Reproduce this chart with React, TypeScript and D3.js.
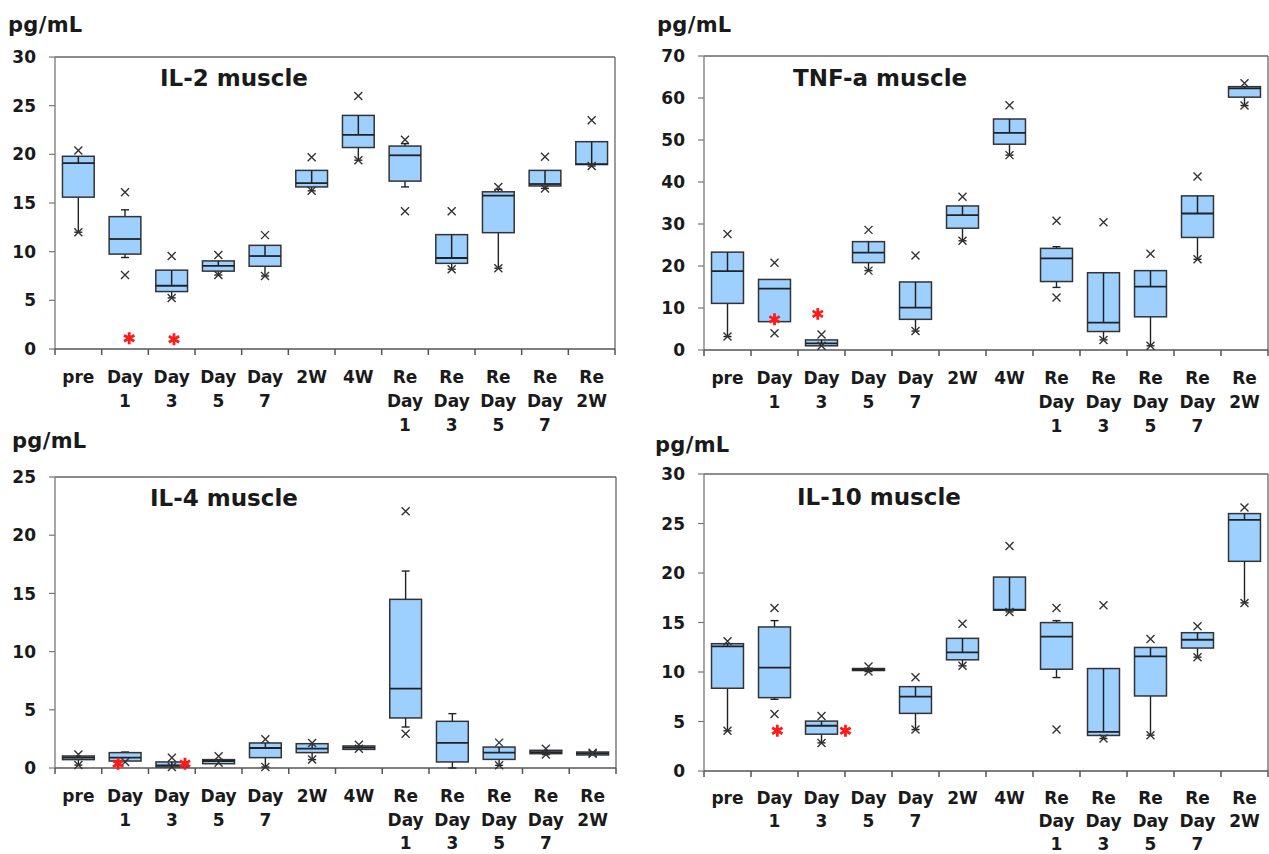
import React from 'react';
import * as d3 from 'd3';

const categories = [
  ['pre'], ['Day', '1'], ['Day', '3'], ['Day', '5'], ['Day', '7'], ['2W'], ['4W'],
  ['Re', 'Day', '1'], ['Re', 'Day', '3'], ['Re', 'Day', '5'], ['Re', 'Day', '7'], ['Re', '2W'],
];

// IL-2
const il2Q3 = [19.8, 13.6, 8.1, 9.05, 10.65, 18.35, 24.0, 20.85, 11.75, 16.15, 18.35, 21.3];
const il2Med = [19.1, 11.3, 6.5, 8.55, 9.55, 17.05, 22.0, 19.9, 9.35, 15.75, 16.95, 19.0];
const il2Q1 = [15.6, 9.75, 5.9, 8.0, 8.5, 16.65, 20.7, 17.25, 8.8, 11.95, 16.75, 18.95];
const il2Hi = [19.8, 14.3, 8.1, 9.05, 10.65, 18.35, 24.0, 21.1, 11.75, 16.4, 18.35, 21.3];
const il2Lo = [12.0, 9.4, 5.25, 7.6, 7.5, 16.25, 19.4, 16.65, 8.2, 8.3, 16.5, 18.8];
const il2XTop = [20.4, 16.1, 9.55, 9.65, 11.7, 19.7, 26.0, 21.5, 14.15, 16.65, 19.75, 23.5];
const il2XBot = [12.0, 7.6, 5.25, 7.6, 7.5, 16.25, 19.4, 14.15, 8.2, 8.3, 16.5, 18.8];
const il2Stars = [{ i: 1, off: 0.09, v: 1.1 }, { i: 2, off: 0.05, v: 1.0 }];
const il2Ticks = [0, 5, 10, 15, 20, 25, 30];

// TNF-a
const tnfQ3 = [23.3, 16.8, 2.4, 25.8, 16.2, 34.3, 55.0, 24.2, 18.4, 18.9, 36.7, 62.7];
const tnfMed = [18.8, 14.6, 1.6, 23.2, 10.1, 32.1, 51.7, 21.8, 6.5, 15.1, 32.5, 62.3];
const tnfQ1 = [11.1, 6.75, 1.0, 20.8, 7.3, 29.0, 49.0, 16.3, 4.4, 7.9, 26.8, 60.2];
const tnfHi = [23.3, 14.6, 2.4, 25.8, 16.2, 34.3, 55.0, 24.6, 18.4, 18.9, 36.7, 62.7];
const tnfLo = [3.2, 6.75, 1.0, 18.9, 4.5, 26.0, 46.4, 14.9, 2.4, 1.0, 21.6, 58.2];
const tnfXTop = [27.6, 20.8, 3.7, 28.6, 22.5, 36.5, 58.3, 30.8, 30.4, 22.9, 41.3, 63.5];
const tnfXBot = [3.2, 4.0, 1.0, 18.9, 4.5, 26.0, 46.4, 12.5, 2.4, 1.0, 21.6, 58.2];
const tnfStars = [{ i: 1, off: 0, v: 7.3 }, { i: 2, off: -0.08, v: 8.6 }];
const tnfTicks = [0, 10, 20, 30, 40, 50, 60, 70];

// IL-4
const il4Q3 = [1.03, 1.32, 0.52, 0.72, 2.15, 2.09, 1.89, 14.49, 4.01, 1.8, 1.52, 1.37];
const il4Med = [0.89, 0.89, 0.23, 0.6, 1.72, 1.66, 1.75, 6.82, 2.15, 1.32, 1.37, 1.26];
const il4Q1 = [0.72, 0.6, 0.09, 0.37, 0.89, 1.32, 1.6, 4.3, 0.52, 0.74, 1.23, 1.12];
const il4Hi = [1.03, 1.37, 0.52, 0.72, 2.15, 2.09, 1.89, 16.92, 4.67, 1.8, 1.52, 1.37];
const il4Lo = [0.25, 0.6, 0.09, 0.46, 0.09, 0.72, 1.65, 3.52, 0.0, 0.23, 1.15, 1.23];
const il4XTop = [1.17, null, 0.89, 1.0, 2.46, 2.15, 2.0, 22.05, null, 2.18, 1.66, 1.3];
const il4XBot = [0.25, 0.52, 0.09, 0.46, 0.09, 0.72, 1.65, 2.95, null, 0.23, 1.15, 1.23];
const il4Stars = [{ i: 1, off: -0.15, v: 0.37 }, { i: 2, off: 0.28, v: 0.37 }];
const il4Ticks = [0, 5, 10, 15, 20, 25];

// IL-10
const il10Q3 = [12.86, 14.55, 5.04, 10.35, 8.52, 13.4, 19.59, 14.99, 10.35, 12.48, 13.97, 26.0];
const il10Med = [12.58, 10.45, 4.57, 10.25, 7.51, 11.98, 16.31, 13.57, 3.96, 11.57, 13.26, 25.37];
const il10Q1 = [8.36, 7.41, 3.72, 10.15, 5.82, 11.23, 16.24, 10.28, 3.59, 7.58, 12.42, 21.18];
const il10Hi = [12.86, 15.19, 5.04, 10.35, 8.52, 13.4, 19.59, 15.19, 10.35, 12.48, 13.97, 26.0];
const il10Lo = [4.06, 7.24, 2.84, 10.05, 4.19, 10.62, 16.07, 9.44, 3.28, 3.62, 11.5, 16.98];
const il10XTop = [13.1, 16.47, 5.55, 10.55, 9.47, 14.88, 22.73, 16.47, 16.75, 13.33, 14.61, 26.62];
const il10XBot = [4.06, 5.75, 2.84, 10.05, 4.19, 10.62, 16.07, 4.19, 3.28, 3.62, 11.5, 16.98];
const il10Stars = [{ i: 1, off: 0.06, v: 4.06 }, { i: 2, off: 0.51, v: 4.06 }];
const il10Ticks = [0, 5, 10, 15, 20, 25, 30];

const FONT = '"DejaVu Sans", sans-serif';

type PanelProps = {
  left: number; right: number; top: number; bottom: number;
  max: number; ticks: number[]; title: string; titleX: number; titleDy: number;
  unitX: number; unitY: number; labelDy: number; lineGap: number;
  q1: number[]; med: number[]; q3: number[]; lo: number[]; hi: number[];
  xTop: (number | null)[]; xBot: (number | null)[];
  stars: { i: number; off: number; v: number }[];
};

const Panel = (p: PanelProps) => {
  const x = d3.scaleBand<number>()
    .domain(categories.map((_, i) => i))
    .range([p.left, p.right])
    .padding(0);
  const y = d3.scaleLinear().domain([0, p.max]).range([p.bottom, p.top]);
  const bw = x.bandwidth();
  const boxW = bw * 0.68;
  const capW = 8;
  const star = d3.symbol(d3.symbolAsterisk, 100)() as string;

  const cross = (cx: number, cy: number) =>
    `M${cx - 4},${cy - 4}L${cx + 4},${cy + 4}M${cx - 4},${cy + 4}L${cx + 4},${cy - 4}`;

  return (
    <g>
      <text x={p.unitX} y={p.unitY} fontFamily={FONT} fontWeight="bold" fontSize={21}
        fill="#1a1a1a" letterSpacing={0.3}>pg/mL</text>

      {/* frame */}
      <line x1={p.left} x2={p.right} y1={p.top} y2={p.top} stroke="#666" strokeWidth={1.3} />
      <line x1={p.right} x2={p.right} y1={p.top} y2={p.bottom} stroke="#666" strokeWidth={1.3} />
      <line x1={p.left} x2={p.left} y1={p.top} y2={p.bottom} stroke="#777" strokeWidth={1.3} />
      <line x1={p.left} x2={p.right} y1={p.bottom} y2={p.bottom} stroke="#555" strokeWidth={1.5} />

      {/* y ticks */}
      {p.ticks.map(t => (
        <g key={t}>
          <line x1={p.left - 6} x2={p.left} y1={y(t)} y2={y(t)} stroke="#777" strokeWidth={1.2} />
          <text x={p.left - 19} y={y(t)} dy="0.36em" textAnchor="end" fontFamily={FONT}
            fontWeight="bold" fontSize={17} fill="#1a1a1a">{t}</text>
        </g>
      ))}

      {/* x ticks */}
      {categories.map((_, i) => (
        <line key={'t' + i} x1={x(i)!} x2={x(i)!} y1={p.bottom} y2={p.bottom + 6}
          stroke="#555" strokeWidth={1.5} />
      ))}
      <line x1={p.right} x2={p.right} y1={p.bottom} y2={p.bottom + 6} stroke="#555" strokeWidth={1.5} />

      {/* category labels */}
      {categories.map((lines, i) => (
        <text key={'c' + i} x={x(i)! + bw / 2} y={p.bottom + p.labelDy} textAnchor="middle"
          fontFamily={FONT} fontWeight="bold" fontSize={17} fill="#1a1a1a">
          {lines.map((l, j) => (
            <tspan key={j} x={x(i)! + bw / 2} dy={j === 0 ? 0 : p.lineGap}>{l}</tspan>
          ))}
        </text>
      ))}

      <text x={p.titleX} y={p.top + p.titleDy} fontFamily={FONT} fontWeight="bold"
        fontSize={23} fill="#1a1a1a">{p.title}</text>

      {/* boxes */}
      {categories.map((_, i) => {
        const cx = x(i)! + bw / 2;
        const x0 = cx - boxW / 2;
        const items: React.ReactNode[] = [];
        if (p.lo[i] < p.q1[i] - 1e-6) {
          items.push(<line key="lw" x1={cx} x2={cx} y1={y(p.q1[i])} y2={y(p.lo[i])} stroke="#222" strokeWidth={1.4} />);
          items.push(<line key="lc" x1={cx - capW / 2} x2={cx + capW / 2} y1={y(p.lo[i])} y2={y(p.lo[i])} stroke="#222" strokeWidth={1.4} />);
        }
        if (p.hi[i] > p.q3[i] + 1e-6) {
          items.push(<line key="hw" x1={cx} x2={cx} y1={y(p.q3[i])} y2={y(p.hi[i])} stroke="#222" strokeWidth={1.4} />);
          items.push(<line key="hc" x1={cx - capW / 2} x2={cx + capW / 2} y1={y(p.hi[i])} y2={y(p.hi[i])} stroke="#222" strokeWidth={1.4} />);
        }
        items.push(<rect key="b" x={x0} width={boxW} y={y(p.q3[i])}
          height={Math.max(1, y(p.q1[i]) - y(p.q3[i]))} fill="#9dcfff" stroke="#333" strokeWidth={1.5} />);
        items.push(<line key="m" x1={x0} x2={x0 + boxW} y1={y(p.med[i])} y2={y(p.med[i])} stroke="#222" strokeWidth={1.8} />);
        if (p.hi[i] <= p.q3[i] + 1e-6 && p.hi[i] > p.med[i] + 1e-6) {
          items.push(<line key="in" x1={cx} x2={cx} y1={y(p.med[i])} y2={y(p.hi[i])} stroke="#222" strokeWidth={1.5} />);
        }
        const xt = p.xTop[i];
        const xb = p.xBot[i];
        if (xt !== null) items.push(<path key="xt" d={cross(cx, y(xt))} stroke="#333" strokeWidth={1.4} fill="none" />);
        if (xb !== null) items.push(<path key="xb" d={cross(cx, y(xb))} stroke="#333" strokeWidth={1.4} fill="none" />);
        return <g key={'b' + i}>{items}</g>;
      })}

      {/* significance marks */}
      {p.stars.map((s, k) => (
        <path key={'s' + k} d={star}
          transform={`translate(${x(s.i)! + bw / 2 + s.off * bw},${y(s.v)})`}
          fill="none" stroke="#ff1a1a" strokeWidth={2.8} />
      ))}
    </g>
  );
};

export default function App() {
  return (
    <svg width={1269} height={854} style={{ position: 'absolute', left: 0, top: 0, background: '#fff' }}>
      <rect width={1269} height={854} fill="#fff" />
      <Panel left={55} right={615} top={57} bottom={349} max={30} ticks={il2Ticks}
        title="IL-2 muscle" titleX={160} titleDy={29} unitX={8} unitY={32}
        labelDy={34} lineGap={24}
        q1={il2Q1} med={il2Med} q3={il2Q3} lo={il2Lo} hi={il2Hi}
        xTop={il2XTop} xBot={il2XBot} stars={il2Stars} />
      <Panel left={704} right={1268} top={56} bottom={350} max={70} ticks={tnfTicks}
        title="TNF-a muscle" titleX={793} titleDy={30} unitX={657} unitY={32}
        labelDy={34} lineGap={24}
        q1={tnfQ1} med={tnfMed} q3={tnfQ3} lo={tnfLo} hi={tnfHi}
        xTop={tnfXTop} xBot={tnfXBot} stars={tnfStars} />
      <Panel left={55} right={616} top={477} bottom={768} max={25} ticks={il4Ticks}
        title="IL-4 muscle" titleX={150} titleDy={29} unitX={12} unitY={448}
        labelDy={34} lineGap={23.5}
        q1={il4Q1} med={il4Med} q3={il4Q3} lo={il4Lo} hi={il4Hi}
        xTop={il4XTop} xBot={il4XBot} stars={il4Stars} />
      <Panel left={704} right={1268} top={474} bottom={771} max={30} ticks={il10Ticks}
        title="IL-10 muscle" titleX={797} titleDy={31} unitX={655} unitY={452}
        labelDy={33} lineGap={23}
        q1={il10Q1} med={il10Med} q3={il10Q3} lo={il10Lo} hi={il10Hi}
        xTop={il10XTop} xBot={il10XBot} stars={il10Stars} />
    </svg>
  );
}
